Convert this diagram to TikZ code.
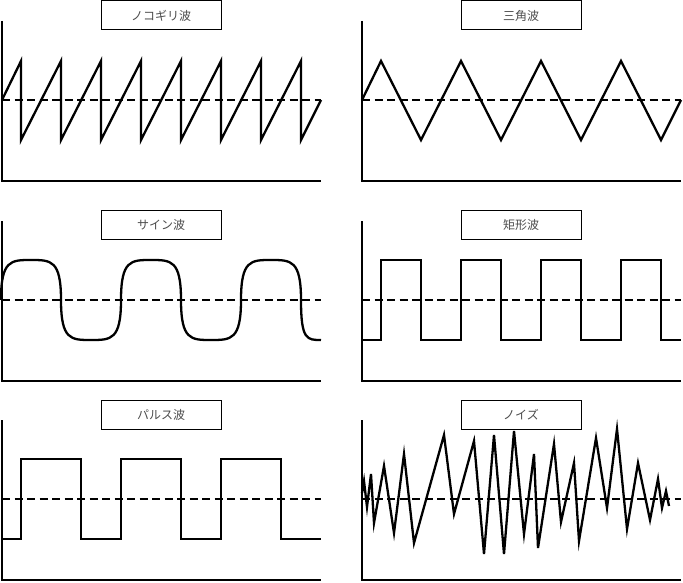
\documentclass[tikz,border=0pt]{standalone}
\usepackage{fontspec}
\newfontfamily\jpfont{Noto Sans CJK JP}

\begin{document}
\begin{tikzpicture}[x=1pt,y=-1pt,
 title/.style={draw,line width=1pt,minimum width=120pt,minimum height=29pt,
 inner sep=0pt,text=black!70,font=\jpfont\fontsize{12}{14}\selectfont},
 axis/.style={line width=2.3pt},
 zero/.style={line width=2.3pt,dash pattern=on 8pt off 4.5pt},
 wave/.style={line width=2.3pt,line join=miter}]
\useasboundingbox (0,0) rectangle (683,583);
% titles
\node[title] (saw) at (161,15.5) {ノコギリ波};
\node[title] (tri) at (521,15.5) {三角波};
\node[title] (sine) at (161,225) {サイン波};
\node[title] (rect) at (521,225) {矩形波};
\node[title] (pulse) at (161,415) {パルス波};
\node[title] (noise) at (521,415) {ノイズ};
% axes and zero lines
\foreach \ox/\oy in {0/0,360/0,0/200,360/200,0/399,360/399} {
 \draw[axis] (\ox+2,\oy+21) -- (\ox+2,\oy+181) -- (\ox+321,\oy+181);
 \draw[zero] (\ox+2,\oy+100) -- (\ox+321,\oy+100);
}
% saw
\draw[wave] (2,100) foreach \x in {21,61,...,301} {-- (\x,61) -- (\x,140)} -- (321,100);
% triangle
\draw[wave] (362,100) foreach \x in {381,461,541,621} {-- (\x,61) -- (\x+40,140)} -- (681,100);
% sine
\draw[wave] (1,300) foreach \x/\y in {1/260,61/340,121/260,181/340,241/260} {
 .. controls (\x,\y) and (\x+10,\y) .. (\x+30,\y)
 .. controls (\x+50,\y) and (\x+60,\y) .. (\x+60,300)}
 .. controls (301,340) and (307,340) .. (321,340);
% rectangle
\draw[wave] (362,340) foreach \x in {381,461,541,621} {-- (\x,340) -- (\x,260) -- (\x+40,260) -- (\x+40,340)} -- (681,340);
% pulse
\draw[wave] (2,539) foreach \x in {21,121,221} {-- (\x,539) -- (\x,459) -- (\x+60,459) -- (\x+60,539)} -- (321,539);
% noise
\draw[wave] (362,493) -- (364,481) -- (367,507) -- (371,474) -- (374,523) -- (384,466)
 -- (394,533) -- (404,454) -- (414,543) -- (444,435) -- (454,514) -- (474,441)
 -- (484,554) -- (494,435) -- (504,554) -- (514,431) -- (524,534) -- (534,454)
 -- (538,548) -- (554,444) -- (561,522) -- (574,463) -- (579,541) -- (596,438)
 -- (607,508) -- (617,429) -- (627,529) -- (638,463) -- (650,520) -- (658,479)
 -- (662,508) -- (666,491) -- (669,506);
\end{tikzpicture}
\end{document}
